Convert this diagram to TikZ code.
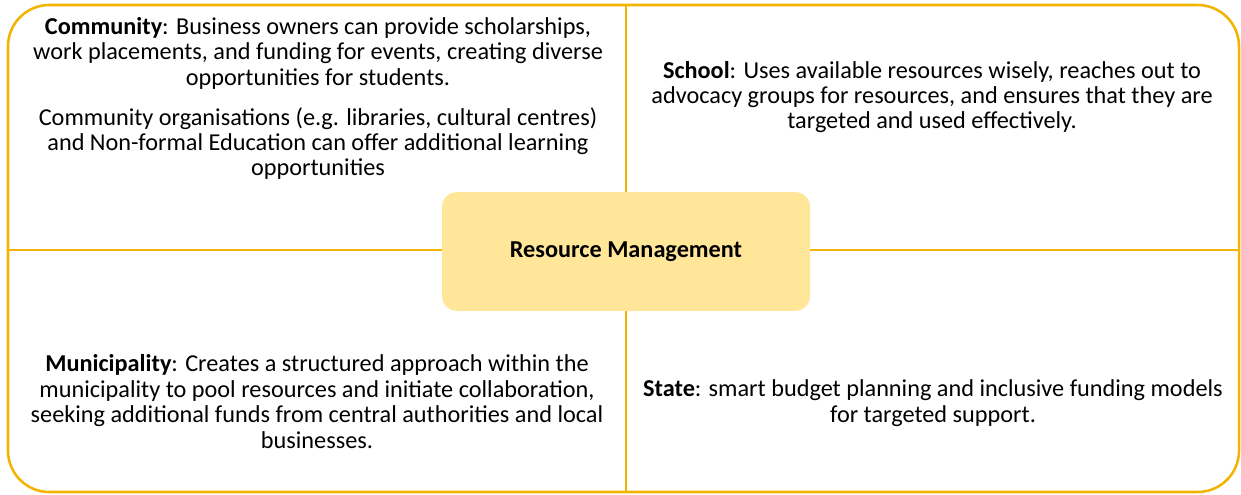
\documentclass[tikz,border=0pt]{standalone}
\usepackage{fontspec}
\setmainfont{Carlito}
\usetikzlibrary{positioning}
\definecolor{gold}{RGB}{242,180,0}
\definecolor{paleyellow}{RGB}{255,230,153}
\tikzstyle{quadtext}=[align=center, inner sep=0pt, anchor=base, font=\fontsize{18.2}{19.1}\selectfont]
\tikzstyle{hub}=[rounded corners=11pt, fill=paleyellow, minimum width=276pt, minimum height=89pt, font=\fontsize{18.2}{19.1}\selectfont\bfseries]
\newcommand{\quadnode}{\node[quadtext]}

\begin{document}
\begin{tikzpicture}[x=0.75pt, y=-0.75pt, line width=1.9pt]
\useasboundingbox (0,0) rectangle (1241,495);
\draw[gold, rounded corners=31pt] (8,5) rectangle (1239,492);
\coordinate (top) at (626,5);
\coordinate (bottom) at (626,492);
\coordinate (left) at (8,250);
\coordinate (right) at (1239,250);
\draw[gold] (top) -- (bottom);
\draw[gold] (left) -- (right);
\node[hub] (hub) at (626,251.5) {Resource Management};
% base anchor sits on the last line
\quadnode (community) at (318,176) {\textbf{Community}: Business owners can provide scholarships,\\
  work placements, and funding for events, creating diverse\\
  opportunities for students.\\[10.9pt]
  Community organisations (e.g. libraries, cultural centres)\\
  and Non-formal Education can offer additional learning\\
  opportunities};
\quadnode (school) at (932,129) {\textbf{School}: Uses available resources wisely, reaches out to\\
  advocacy groups for resources, and ensures that they are\\
  targeted and used effectively.};
\quadnode (municipality) at (317,448) {\textbf{Municipality}: Creates a structured approach within the\\
  municipality to pool resources and initiate collaboration,\\
  seeking additional funds from central authorities and local\\
  businesses.};
\quadnode (state) at (933,422) {\textbf{State}: smart budget planning and inclusive funding models\\
  for targeted support.};
\end{tikzpicture}
\end{document}
